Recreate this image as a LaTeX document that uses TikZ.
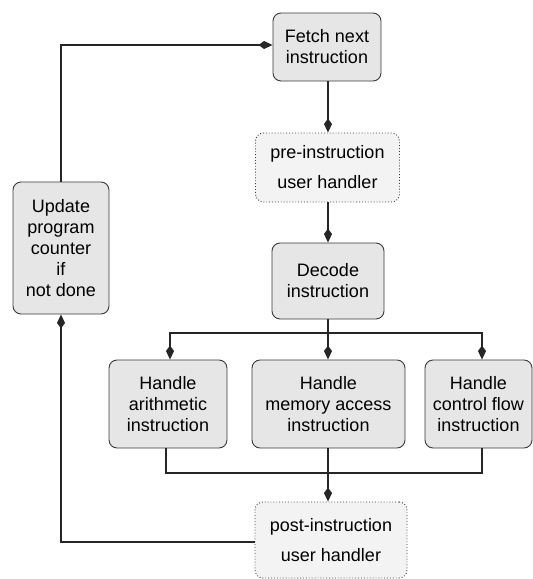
\documentclass[tikz,border=0pt]{standalone}
\usepackage{fontspec}
\setmainfont{Liberation Sans}
\usetikzlibrary{arrows.meta,calc}
\definecolor{boxfill}{HTML}{E6E6E6}
\definecolor{dotfill}{HTML}{F3F3F3}
\definecolor{edge}{HTML}{3A3A3A}
\begin{document}
\begin{tikzpicture}[x=1pt,y=-1pt,
  box/.style={draw=edge,fill=boxfill,rounded corners=8pt,line width=0.9pt,align=center,inner sep=0pt,font=\fontsize{18}{21}\selectfont},
  dbox/.style={box,fill=dotfill,dotted,font=\fontsize{18}{30}\selectfont},
  conn/.style={draw=black!85,line width=1.2pt},
  arr/.style={conn,-{Kite[length=14pt,width=8pt,inset=5.5pt]}}]
\useasboundingbox (0,0) rectangle (533,579);
\node[box,minimum width=108pt,minimum height=68pt] (fetch) at (327,47) {Fetch next\\instruction};
\node[dbox,minimum width=144pt,minimum height=69pt] (pre) at (327.5,167.5) {pre-instruction\\user handler};
\node[box,minimum width=112pt,minimum height=76pt] (decode) at (328,281) {Decode\\instruction};
\node[box,minimum width=96pt,minimum height=132pt] (update) at (61,248) {Update\\program\\counter\\if\\not done};
\node[box,minimum width=118pt,minimum height=88pt] (arith) at (168,404) {Handle\\arithmetic\\instruction};
\node[box,minimum width=153pt,minimum height=88pt] (mem) at (328.5,404) {Handle\\memory access\\instruction};
\node[box,minimum width=107pt,minimum height=88pt] (ctrl) at (478.5,404) {Handle\\control flow\\instruction};
\node[dbox,minimum width=152pt,minimum height=76pt] (post) at (331,540) {post-instruction\\user handler};
\coordinate (bus) at (328,333);
\coordinate (merge) at (328,473);
\draw[arr] (fetch.south -| decode) -- (pre.north -| decode);
\draw[arr] (pre.south -| decode) -- (decode.north);
\draw[conn] (decode.south) -- (bus);
\draw[arr] (bus) -| ($(arith.north)+(2,0)$);
\draw[arr] (bus) -- (mem.north -| bus);
\draw[arr] (bus) -| ($(ctrl.north)+(3.5,0)$);
\draw[conn] ($(arith.south)+(-2,0)$) |- (merge) -| ($(ctrl.south)+(3.5,0)$);
\draw[arr] (mem.south -| merge) -- (post.north -| merge);
\draw[arr] ($(post.west)+(0,2)$) -| (update.south);
\draw[arr] (update.north) |- ($(fetch.west)+(0,-2)$);
\end{tikzpicture}
\end{document}
